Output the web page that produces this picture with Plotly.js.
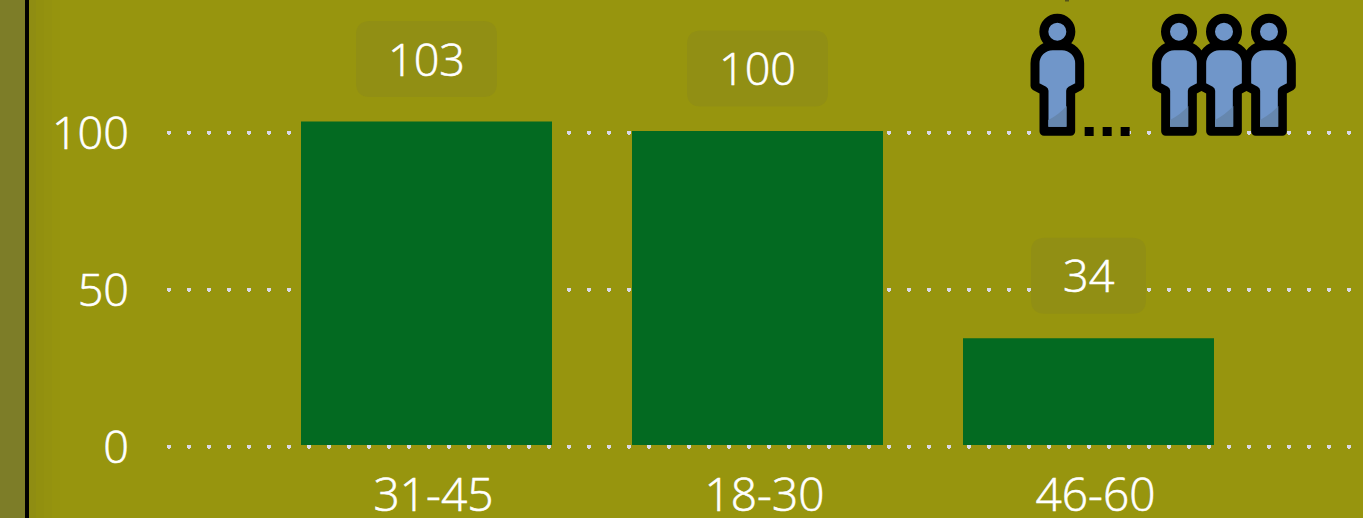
<!DOCTYPE html>
<html><head><meta charset="utf-8">
<script src="https://cdn.plot.ly/plotly-3.0.1.min.js"></script>
<style>
html,body{margin:0;padding:0;background:#97950e;overflow:hidden}
#c{width:1363px;height:518px}
.gridlayer path{stroke-linecap:round}
.gridlayer{transform:translate(0,1.7px)}
.yaxislayer-above{transform:translate(0,2px)}
svg text{stroke:#ffffff;stroke-width:0.6px}
</style></head><body><div id="c"></div>
<script>
const categories = ["31-45", "18-30", "46-60"];
const values = [103, 100, 34];
const yTicks = [0, 50, 100];

const W = 1363, H = 518, L = 169, B = 71;
const SCALE = 3.14;
const PW = W - L, PH = H - B;
const px = x => (x - L) / PW;
const font = {family: '"Open Sans", "Noto Sans", sans-serif', color: '#ffffff', size: 45, weight: 300};
const xFont = {family: font.family, color: font.color, size: 46, weight: 300};

function person(cx) {
  const t = 'translate(' + (cx - 172) + ' 0)';
  const body = 'M105 190V258L132 272V394H212V272L239 258V190A53 53 0 0 0 186 137H158A53 53 0 0 0 105 190Z';
  return '<g transform="' + t + '">' +
    '<path d="' + body + '" fill="#7096c9" stroke="#000" stroke-width="27" stroke-linejoin="round"/>' +
    '<path d="M145 380V360Q175 345 200 318V380Z" fill="#6687ae"/>' +
    '<circle cx="172" cy="95" r="40.5" fill="#7096c9" stroke="#000" stroke-width="27"/></g>';
}
const iconSvg = '<svg xmlns="http://www.w3.org/2000/svg" viewBox="75 30 825 390" width="275" height="130">' +
  person(172) + person(537) + person(672) + person(807) +
  '<rect x="254" y="381" width="27" height="27"/><rect x="308" y="381" width="27" height="27"/><rect x="362" y="381" width="27" height="27"/>' +
  '</svg>';

function roundedPath(w, h, off) {
  const r = 14, x = w / 2, t = off + h / 2, b = off - h / 2;
  return 'M' + (-x + r) + ' ' + t + 'L' + (x - r) + ' ' + t + 'Q' + x + ' ' + t + ' ' + x + ' ' + (t - r) +
    'L' + x + ' ' + (b + r) + 'Q' + x + ' ' + b + ' ' + (x - r) + ' ' + b +
    'L' + (-x + r) + ' ' + b + 'Q' + (-x) + ' ' + b + ' ' + (-x) + ' ' + (b + r) +
    'L' + (-x) + ' ' + (t - r) + 'Q' + (-x) + ' ' + t + ' ' + (-x + r) + ' ' + t + 'Z';
}

const shapes = [];
function band(x0, x1, color) {
  shapes.push({type: 'rect', xref: 'paper', yref: 'paper', x0: px(x0), x1: px(x1), y0: -B / PH, y1: 1,
    fillcolor: color, line: {width: 0}, layer: 'below'});
}
band(0, 25, '#7d7d28');
band(29, 36, '#8f8d12');
band(36, 44, '#92900f');
band(44, 52, '#94920f');
band(52, 60, '#96940e');
band(25, 29, '#000000');
shapes.push({type: 'rect', xref: 'paper', yref: 'paper', x0: px(1065), x1: px(1069), y0: 1 - 1.5 / PH, y1: 1,
  fillcolor: '#55531a', line: {width: 0}});

const annotations = [];
values.forEach((v, i) => {
  const w = String(v).length === 3 ? 141 : 115;
  shapes.push({type: 'path', xref: 'x', yref: 'y', xsizemode: 'pixel', ysizemode: 'pixel',
    xanchor: i, yanchor: v, path: roundedPath(w, 76, 62.5),
    fillcolor: '#918f14', line: {width: 0}, layer: 'above'});
  annotations.push({x: i, y: v, xref: 'x', yref: 'y', text: String(v), showarrow: false,
    yanchor: 'middle', xanchor: 'center', yshift: 63.5, font: font});
});

const trace = {type: 'bar', x: categories, y: values, marker: {color: '#036a21', line: {width: 0}},
  hoverinfo: 'skip', cliponaxis: false};

const layout = {
  width: W, height: H, margin: {l: L, r: 0, t: 0, b: B, pad: 0},
  paper_bgcolor: '#97950e', plot_bgcolor: 'rgba(0,0,0,0)', showlegend: false, bargap: 0.2417,
  font: font,
  xaxis: {type: 'category', categoryorder: 'array', categoryarray: categories,
    range: [(L - 426.5) / 331, (W - 426.5) / 331], showgrid: false, zeroline: false, showline: false,
    ticks: 'outside', ticklen: 8, tickcolor: 'rgba(0,0,0,0)', tickfont: xFont, ticklabelshift: 7},
  yaxis: {range: [-2 / SCALE, 445 / SCALE], tickmode: 'array', tickvals: yTicks, ticktext: yTicks.map(String),
    showgrid: true, gridcolor: '#d9d9e8', gridwidth: 4, griddash: '0.1px,19.9px', zeroline: false, showline: false,
    ticks: 'outside', ticklen: 30, tickcolor: 'rgba(0,0,0,0)', tickfont: font},
  shapes: shapes,
  annotations: annotations,
  images: [{source: 'data:image/svg+xml;base64,' + btoa(iconSvg), xref: 'paper', yref: 'paper',
    x: px(1025), y: 1 - 10 / PH, sizex: 275 / PW, sizey: 130 / PH, xanchor: 'left', yanchor: 'top',
    sizing: 'stretch', layer: 'above'}]
};
Plotly.newPlot('c', [trace], layout, {displayModeBar: false, staticPlot: true});
</script></body></html>
